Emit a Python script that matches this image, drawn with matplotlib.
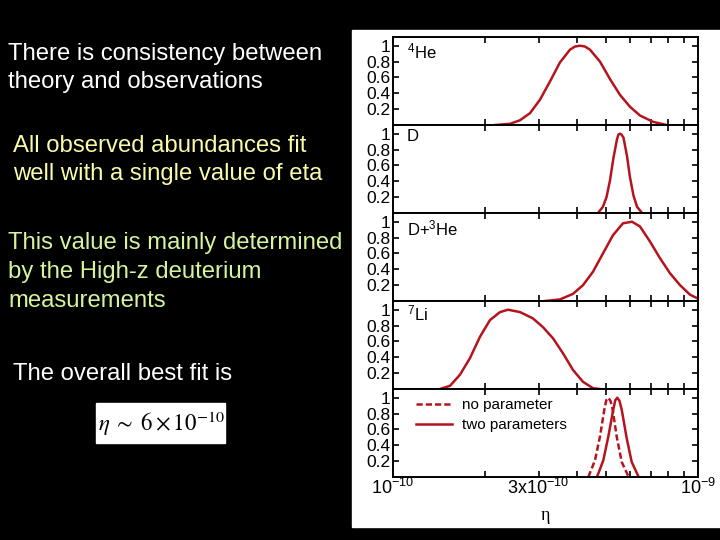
import numpy as np
import matplotlib
matplotlib.use('Agg')
from matplotlib import pyplot as plt
from matplotlib.patches import Rectangle

plt.rcParams['font.family'] = ['Liberation Sans', 'DejaVu Sans']
plt.rcParams['mathtext.fontset'] = 'custom'
plt.rcParams['mathtext.rm'] = 'Liberation Sans'
plt.rcParams['mathtext.it'] = 'Liberation Sans:italic'

# eta in units of 1e-10, normalised likelihood
he4_eta = [2.160, 2.419, 2.609, 2.814, 3.034, 3.272, 3.528, 3.804, 3.950, 4.103, 4.260,
           4.424, 4.771, 5.145, 5.549, 5.984, 6.453, 7.120, 7.797]
he4_val = [0.0, 0.015, 0.06, 0.15, 0.32, 0.55, 0.79, 0.95, 0.99, 1.0, 0.99,
           0.95, 0.80, 0.58, 0.38, 0.23, 0.12, 0.04, 0.005]

d_eta = [4.699, 4.880, 5.012, 5.145, 5.284, 5.425, 5.486, 5.549, 5.612, 5.697, 5.850,
         5.984, 6.144, 6.310, 6.553]
d_val = [0.0, 0.08, 0.20, 0.41, 0.70, 0.93, 0.99, 1.0, 0.99, 0.95, 0.72,
         0.45, 0.22, 0.08, 0.0]

dhe3_eta = [3.151, 3.528, 3.892, 4.198, 4.527, 4.880, 5.263, 5.676, 6.075, 6.453,
            6.959, 7.505, 8.094, 8.730, 9.414, 10.0]
dhe3_val = [0.0, 0.02, 0.09, 0.20, 0.37, 0.60, 0.83, 0.98, 1.0, 0.94,
            0.75, 0.54, 0.35, 0.20, 0.08, 0.03]

li7_eta = [1.426, 1.538, 1.658, 1.788, 1.929, 2.080, 2.243, 2.383, 2.609, 2.877,
           3.103, 3.346, 3.609, 3.892, 4.198, 4.527, 4.771]
li7_val = [0.0, 0.04, 0.18, 0.39, 0.66, 0.87, 0.97, 1.0, 0.97, 0.89,
           0.78, 0.64, 0.45, 0.24, 0.09, 0.01, 0.0]

two_eta = [4.664, 4.892, 5.081, 5.275, 5.357, 5.438, 5.527, 5.621, 5.837, 6.061, 6.372]
two_val = [0.0, 0.21, 0.51, 0.85, 0.97, 1.0, 0.96, 0.85, 0.49, 0.19, 0.01]

nopar_eta = [4.369, 4.594, 4.771, 4.930, 5.005, 5.081, 5.166, 5.251, 5.413, 5.621, 5.909]
nopar_val = [0.0, 0.21, 0.51, 0.85, 0.97, 1.0, 0.96, 0.85, 0.51, 0.19, 0.01]

panel_labels = [r'$^{4}$He', 'D', r'D+$^{3}$He', r'$^{7}$Li']
label_y = [0.76, 0.82, 0.75, 0.78]
yticks = [0.2, 0.4, 0.6, 0.8, 1.0]
yticklabels = ['0.2', '0.4', '0.6', '0.8', '1']
xticks = [1, 3, 10]
xticklabels = [r'$10^{-10}$', r'$3\mathrm{x}10^{-10}$', r'$10^{-9}$']

red = '#b5141e'

fig = plt.figure(figsize=(7.2, 5.4), dpi=100, facecolor='black')
fig.patches.append(Rectangle((352/720, 1-527/540), 368/720, 497/540,
                             transform=fig.transFigure, color='white', zorder=-10))

left, right, top, bot = 393/720, 698/720, 1-37/540, 1-477/540
h = (top - bot)/5
curves = [(he4_eta, he4_val), (d_eta, d_val), (dhe3_eta, dhe3_val), (li7_eta, li7_val)]
axes = []
for i in range(5):
    ax = fig.add_axes([left, top-(i+1)*h, right-left, h])
    ax.set_facecolor('white')
    ax.set_xscale('log')
    ax.set_xlim(1, 10)
    ax.set_ylim(0, 1.11)
    if i < 4:
        e, v = curves[i]
        e = np.array(e)
        ax.plot(e, v, color=red, lw=1.8)
        ax.text(0.045, label_y[i], panel_labels[i], transform=ax.transAxes, fontsize=12)
    ax.set_yticks(yticks)
    ax.set_yticklabels(yticklabels, fontsize=12.5)
    ax.set_xticks(xticks)
    ax.set_xticks([2, 4, 5, 6, 7, 8, 9], minor=True)
    ax.tick_params(axis='both', which='both', direction='in', top=True, right=True,
                   length=4, width=1.2, pad=2)
    if i < 4:
        ax.set_xticklabels([])
        ax.tick_params(axis='x', which='minor', labelbottom=False)
    for s in ax.spines.values():
        s.set_linewidth(1.4)
    axes.append(ax)

ax = axes[4]
ax.plot(np.array(nopar_eta), nopar_val, color=red, lw=1.8, ls=(0, (2.5, 1.2)), label='no parameter')
ax.plot(np.array(two_eta), two_val, color=red, lw=1.8, label='two parameters')
ax.set_xticklabels(xticklabels, fontsize=13)
ax.xaxis.set_minor_formatter(matplotlib.ticker.NullFormatter())
ax.tick_params(axis='x', pad=1)
ax.legend(loc='upper left', bbox_to_anchor=(0.03, 1.05), frameon=False, fontsize=11,
          handlelength=2.35, handletextpad=0.65, labelspacing=0.4)
ax.set_xlabel('η', family='Liberation Serif', fontsize=13, labelpad=6)

# left text
txt = dict(fontsize=17.2, va='baseline', ha='left')
fig.text(8/720, 1-60/540, 'There is consistency between', color='white', **txt)
fig.text(8/720, 1-88/540, 'theory and observations', color='white', **txt)
fig.text(13/720, 1-152/540, 'All observed abundances fit', color='#fafaa8', **txt)
fig.text(13/720, 1-180/540, 'well with a single value of eta', color='#fafaa8', **txt)
fig.text(8/720, 1-249/540, 'This value is mainly determined', color='#d4f59c', **txt)
fig.text(8/720, 1-278/540, 'by the High-z deuterium', color='#d4f59c', **txt)
fig.text(8/720, 1-307/540, 'measurements', color='#d4f59c', **txt)
fig.text(13/720, 1-380/540, 'The overall best fit is', color='white', **txt)

fig.patches.append(Rectangle((96/720, 1-443/540), 129/720, 40/540,
                             transform=fig.transFigure, color='white', zorder=-10))
fig.text(161/720, 1-424/540, r'$\eta\;\sim\;6\times10^{-10}$', color='black', fontsize=16.5,
         ha='center', va='center', math_fontfamily='stix')

fig.savefig('out.png', dpi=100, facecolor='black')
